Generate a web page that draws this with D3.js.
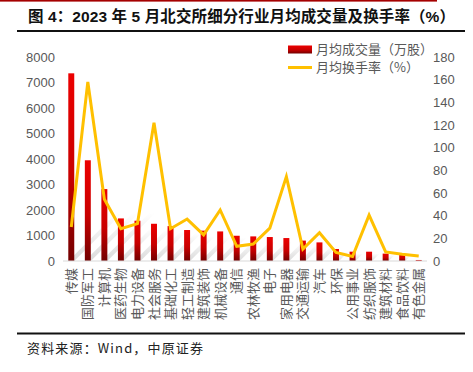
<!DOCTYPE html>
<html>
<head>
<meta charset="utf-8">
<script src="https://cdn.jsdelivr.net/npm/d3@7"></script>
<style>
  html, body { margin: 0; padding: 0; background: #fff; }
  svg { display: block; }
</style>
</head>
<body>
<svg id="chart" width="473" height="372"></svg>
<script>
const categories = ["传媒", "国防军工", "计算机", "医药生物", "电力设备", "社会服务", "基础化工", "轻工制造",
  "建筑装饰", "机械设备", "通信", "农林牧渔", "电子", "家用电器", "交通运输", "汽车", "环保",
  "公用事业", "纺织服饰", "建筑材料", "食品饮料", "有色金属"]
// 月均成交量（万股）
const volume = [7360, 3950, 2820, 1670, 1580, 1460, 1370, 1215, 1190, 1160, 990, 965, 940, 900,
  800, 730, 470, 365, 365, 290, 235, 40]
// 月均换手率（%）
const turnover = [30, 158, 54.5, 28.5, 33, 122, 28.5, 37, 23, 45, 13, 15, 29, 74.5, 10.5, 25, 7.5,
  4, 40.5, 8, 6, 4.5]
const leftTicks = [0, 1000, 2000, 3000, 4000, 5000, 6000, 7000, 8000]
const rightTicks = [0, 20, 40, 60, 80, 100, 120, 140, 160, 180]

const titleText = "图 4：2023 年 5 月北交所细分行业月均成交量及换手率（%）"
const sourceText = "资料来源：Wind，中原证券"
const legendLabels = ["月均成交量（万股）", "月均换手率（%）"]

const FONT = "'Liberation Sans', 'Noto Sans CJK SC', sans-serif"
const CJK = "'Noto Sans CJK SC', sans-serif"
const GREY = "#595959"

const svg = d3.select("#chart")
const m = {top: 57, left: 63, right: 46, bottom: 111}
const W = 473, H = 372
const iw = W - m.left - m.right
const ih = H - m.top - m.bottom

// header / footer rules
svg.append("rect").attr("x", 0).attr("y", 0).attr("width", 437).attr("height", 1.6).attr("fill", "#a50000")
svg.append("text")
  .attr("x", 28).attr("y", 22)
  .attr("font-family", FONT).attr("font-size", 15.5).attr("font-weight", "bold")
  .attr("textLength", 427).attr("lengthAdjust", "spacing")
  .attr("fill", "#111")
  .text(titleText)
svg.append("rect").attr("x", 17).attr("y", 30).attr("width", 448).attr("height", 2).attr("fill", "#111")
svg.append("rect").attr("x", 17).attr("y", 332.5).attr("width", 448).attr("height", 2).attr("fill", "#111")
svg.append("text")
  .attr("x", 27).attr("y", 353)
  .attr("font-family", CJK).attr("font-size", 13)
  .attr("textLength", 176).attr("lengthAdjust", "spacing")
  .attr("fill", "#222")
  .text(sourceText)

const defs = svg.append("defs")
const grad = defs.append("linearGradient").attr("id", "barGrad")
  .attr("x1", 0).attr("y1", 0).attr("x2", 0).attr("y2", 1)
grad.append("stop").attr("offset", "0%").attr("stop-color", "#ec0000")
grad.append("stop").attr("offset", "55%").attr("stop-color", "#c80000")
grad.append("stop").attr("offset", "100%").attr("stop-color", "#720000")

const shadowGrad = defs.append("linearGradient").attr("id", "shadowGrad")
  .attr("x1", 0).attr("y1", 1).attr("x2", 0).attr("y2", 0)
shadowGrad.append("stop").attr("offset", "0%").attr("stop-color", "#bdbdbd").attr("stop-opacity", 0.55)
shadowGrad.append("stop").attr("offset", "100%").attr("stop-color", "#bdbdbd").attr("stop-opacity", 0)

const g = svg.append("g").attr("transform", `translate(${m.left},${m.top})`)

const x = d3.scaleBand().domain(categories).range([0, iw]).paddingInner(0.64).paddingOuter(0.32)
const yL = d3.scaleLinear().domain([0, 8000]).range([ih, 0])
const yR = d3.scaleLinear().domain([0, 180]).range([ih, 0])

// left axis
g.append("g")
  .call(d3.axisLeft(yL).tickValues(leftTicks).tickFormat(d3.format("d")).tickSize(0).tickPadding(8))
  .call((gg) => gg.select(".domain").remove())
  .call((gg) => gg.selectAll("text").attr("font-family", FONT).attr("font-size", 13).attr("fill", GREY))

// right axis
g.append("g")
  .attr("transform", `translate(${iw},0)`)
  .call(d3.axisRight(yR).tickValues(rightTicks).tickFormat(d3.format("d")).tickSize(0).tickPadding(6))
  .call((gg) => gg.select(".domain").remove())
  .call((gg) => gg.selectAll("text").attr("font-family", FONT).attr("font-size", 13).attr("fill", GREY))

// faint slanted bar shadows
const bw = x.bandwidth()
g.append("g")
  .selectAll("path")
  .data(categories)
  .join("path")
  .attr("d", (d, i) => {
    const x0 = x(d)
    const s = Math.min((ih - yL(volume[i])) * 0.8, 48)
    return `M${x0},${ih}L${x0 + bw},${ih}L${x0 + bw + s},${ih - s}L${x0 + s},${ih - s}Z`
  })
  .attr("fill", "url(#shadowGrad)")

// bars
g.append("g")
  .selectAll("rect")
  .data(categories)
  .join("rect")
  .attr("x", (d) => x(d))
  .attr("width", bw)
  .attr("y", (d, i) => yL(volume[i]))
  .attr("height", (d, i) => ih - yL(volume[i]))
  .attr("fill", "url(#barGrad)")

// baseline
g.append("line").attr("x1", 0).attr("x2", iw).attr("y1", ih).attr("y2", ih)
  .attr("stroke", "#d9d9d9").attr("stroke-width", 1)

// turnover line
const line = d3.line()
  .x((d, i) => x(categories[i]) + bw / 2)
  .y((d) => yR(d))
g.append("path")
  .datum(turnover)
  .attr("d", line)
  .attr("fill", "none")
  .attr("stroke", "#ffc000")
  .attr("stroke-width", 3)

// category labels (rotated)
g.append("g")
  .attr("transform", `translate(0,${ih})`)
  .selectAll("text")
  .data(categories)
  .join("text")
  .attr("transform", (d) => `translate(${x(d) + bw / 2 + 4.5},7) rotate(-90)`)
  .attr("text-anchor", "end")
  .attr("font-family", CJK)
  .attr("font-size", 13)
  .attr("fill", GREY)
  .text((d) => d)

// legend
const lg = svg.append("g").attr("transform", "translate(288,0)")
lg.append("rect").attr("x", 0).attr("y", 45.5).attr("width", 24).attr("height", 8).attr("fill", "url(#barGrad)")
lg.append("line").attr("x1", 0).attr("x2", 24).attr("y1", 67.5).attr("y2", 67.5)
  .attr("stroke", "#ffc000").attr("stroke-width", 3)
lg.selectAll("text")
  .data(legendLabels)
  .join("text")
  .attr("x", 28)
  .attr("y", (d, i) => 54 + i * 18)
  .attr("font-family", CJK)
  .attr("font-size", 13)
  .attr("fill", GREY)
  .text((d) => d)
</script>
</body>
</html>
